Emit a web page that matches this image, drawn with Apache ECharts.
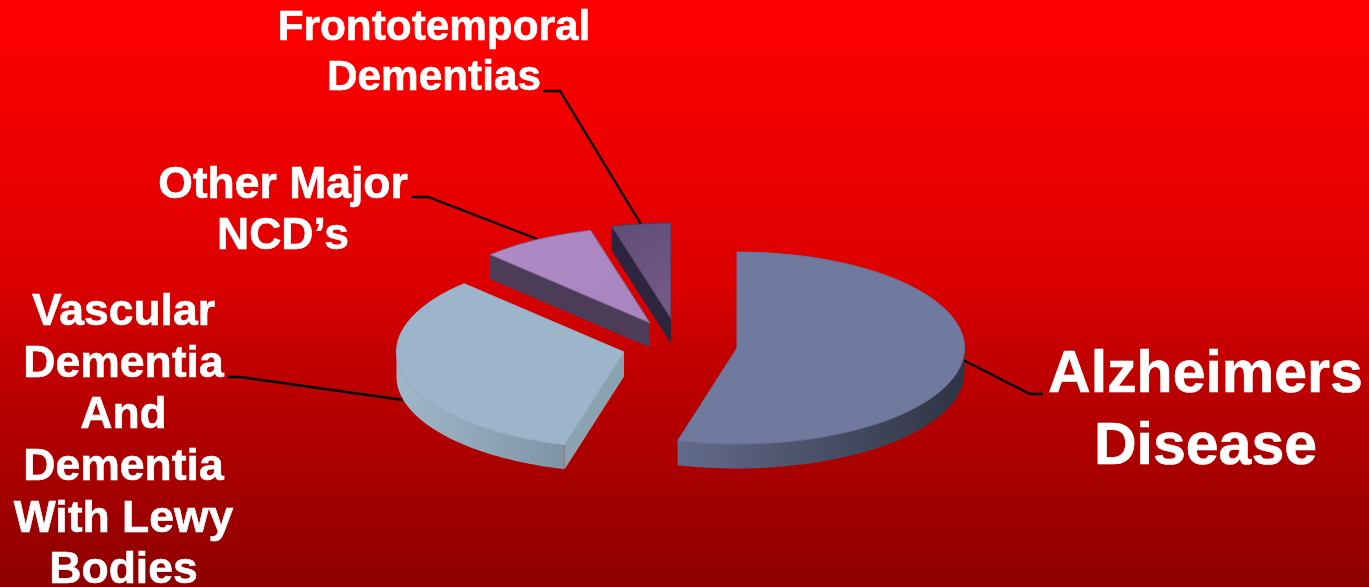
<!DOCTYPE html>
<html><head><meta charset="utf-8">
<style>html,body{margin:0;padding:0;background:#900}#c{width:1369px;height:587px}</style>
<script src="https://cdn.jsdelivr.net/npm/echarts@6/dist/echarts.min.js"></script>
</head><body><div id="c"></div>
<script>
const categories = ["Alzheimers\nDisease","Vascular\nDementia\nAnd\nDementia\nWith Lewy\nBodies","Other Major\nNCD\u2019s","Frontotemporal\nDementias"];
const values = [54.2, 33.4, 8.2, 4.2];

const RX = 227.5, RY = 96, DEPTH = 24.5;
const layout = [
  {c:[737,348], top:'#6f7a9e', top2:'#6f7a9e', arc:['#626b8a','#2f3443'], radial:'#566080', edge:'#687397'},
  {c:[624,352], top:'#9db5ca', top2:'#9db5ca', arc:['#a0b7ca','#7f95a6'], radial:'#8ba2b1', edge:'#97afc4'},
  {c:[650,323], top:'#ad8bc6', top2:'#a985c0', arc:['#4f3d58','#4f3d58'], radial:'#4d3c58', edge:'#7d6590'},
  {c:[671,319], top:'#5f4d76', top2:'#775c8c', arc:['#2e2640','#2e2640'], radial:'#2d2540', edge:'#4a3c5e'}
];
const labelLayout = [
  {x:1205.5, y:411.5, size:59, lh:71.5, line:[[1043,394],[1030,394],[963,360]]},
  {x:123.5,  y:442, size:44.5, lh:51.6, line:[[228,377],[240,377],[403,400]]},
  {x:283,  y:211, size:44.5, lh:51.5, line:[[412,197],[428,197],[537,239]]},
  {x:434,  y:53.5,  size:42.3, lh:50, line:[[543,91],[560,91],[642,226]]}
];
const total = values.reduce((a,b)=>a+b,0);
const PT = (c,t,dy)=>[c[0]+RX*Math.sin(t), c[1]-RY*Math.cos(t)+(dy||0)];

function sliceItem(params, api){
  const i = params.dataIndex, L = layout[i];
  let acc = 0; for(let k=0;k<i;k++) acc += values[k];
  const a0 = acc/total*2*Math.PI, a1 = (acc+api.value(0))/total*2*Math.PI;
  const steps = 90, arc = [];
  for(let s=0;s<=steps;s++) arc.push(PT(L.c, a0+(a1-a0)*s/steps));
  const children = [];
  const lo = Math.max(a0, Math.PI/2), hi = Math.min(a1, 3*Math.PI/2);
  if(hi>lo){
    const up=[], dn=[];
    for(let s=0;s<=steps;s++){ const t=lo+(hi-lo)*s/steps; up.push(PT(L.c,t)); dn.unshift(PT(L.c,t,DEPTH)); }
    children.push({type:'polygon', shape:{points:up.concat(dn)}, style:{
      fill:new echarts.graphic.LinearGradient(0,0,1,0,[{offset:0,color:L.arc[0]},{offset:1,color:L.arc[1]}]) }});
  }
  const first = arc[0];
  if(first[0] < L.c[0]-0.5){
    children.push({type:'polygon', shape:{points:[L.c, first, [first[0],first[1]+DEPTH], [L.c[0],L.c[1]+DEPTH]]},
      style:{fill:L.radial}});
  }
  children.push({type:'polygon', shape:{points:[L.c].concat(arc)}, style:{
    fill:new echarts.graphic.LinearGradient(0,0,1,1,[{offset:0,color:L.top},{offset:1,color:L.top2}]),
    stroke:L.edge, lineWidth:1 }});
  return {type:'group', children};
}
function labelItem(params, api){
  const i = params.dataIndex, L = labelLayout[i];
  return {type:'group', children:[
    {type:'polyline', shape:{points:L.line}, style:{stroke:'#000', lineWidth:2.4, fill:null}},
    {type:'text', style:{text:categories[i], x:L.x, y:L.y, align:'center', verticalAlign:'middle',
      font:'bold '+L.size+'px "Liberation Sans", Arial, sans-serif', lineHeight:L.lh, fill:'#fff', stroke:'#fff', lineWidth:0.6}}
  ]};
}
const chart = echarts.init(document.getElementById('c'), null, {renderer:'canvas', width:1369, height:587});
chart.setOption({
  animation:false,
  backgroundColor:new echarts.graphic.LinearGradient(0,0,0,1,[{offset:0,color:'#ff0000'},{offset:0.05,color:'#fd0000'},{offset:0.48,color:'#dc0000'},{offset:0.6,color:'#c40000'},{offset:1,color:'#8e0000'}]),
  series:[
    {type:'custom', coordinateSystem:'none', silent:true, z:1, renderItem:labelItem, data:values.map(v=>[v])},
    {type:'custom', coordinateSystem:'none', silent:true, z:2, renderItem:sliceItem, data:values.map(v=>[v])}
  ]
});
</script></body></html>
